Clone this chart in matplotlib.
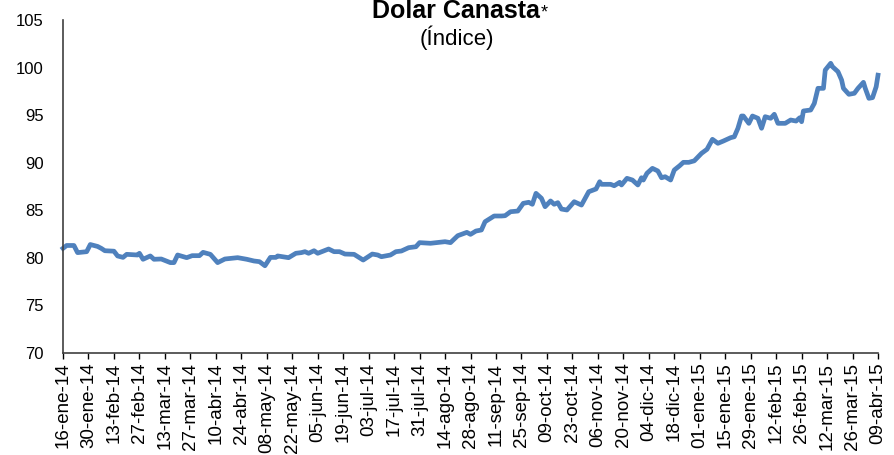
import matplotlib
matplotlib.use('Agg')
import matplotlib.pyplot as plt
import pandas as pd

# datos (Dolar Canasta, índice)
fechas = [
    '2014-01-16', '2014-01-18', '2014-01-22', '2014-01-24', '2014-01-29', '2014-01-31',
    '2014-02-04', '2014-02-06', '2014-02-08', '2014-02-13', '2014-02-15', '2014-02-18',
    '2014-02-20', '2014-02-26', '2014-02-27', '2014-03-01', '2014-03-05', '2014-03-07',
    '2014-03-11', '2014-03-16', '2014-03-18', '2014-03-20', '2014-03-25', '2014-03-28',
    '2014-04-01', '2014-04-03', '2014-04-07', '2014-04-11', '2014-04-15', '2014-04-22',
    '2014-04-27', '2014-05-01', '2014-05-04', '2014-05-07', '2014-05-10', '2014-05-13',
    '2014-05-14', '2014-05-20', '2014-05-24', '2014-05-27', '2014-05-29', '2014-05-31',
    '2014-06-03', '2014-06-05', '2014-06-11', '2014-06-14', '2014-06-17', '2014-06-20',
    '2014-06-25', '2014-06-30', '2014-07-05', '2014-07-08', '2014-07-10', '2014-07-15',
    '2014-07-18', '2014-07-21', '2014-07-25', '2014-07-29', '2014-07-31', '2014-08-06',
    '2014-08-11', '2014-08-14', '2014-08-17', '2014-08-21', '2014-08-26', '2014-08-28',
    '2014-08-31', '2014-09-03', '2014-09-05', '2014-09-10', '2014-09-14', '2014-09-16',
    '2014-09-19', '2014-09-23', '2014-09-26', '2014-09-29', '2014-10-01', '2014-10-03',
    '2014-10-06', '2014-10-08', '2014-10-11', '2014-10-13', '2014-10-15', '2014-10-17',
    '2014-10-20', '2014-10-24', '2014-10-28', '2014-11-01', '2014-11-05', '2014-11-07',
    '2014-11-08', '2014-11-13', '2014-11-15', '2014-11-18', '2014-11-19', '2014-11-22',
    '2014-11-25', '2014-11-28', '2014-11-30', '2014-12-01', '2014-12-03', '2014-12-06',
    '2014-12-09', '2014-12-11', '2014-12-13', '2014-12-16', '2014-12-18', '2014-12-21',
    '2014-12-23', '2014-12-26', '2014-12-29', '2015-01-02', '2015-01-05', '2015-01-08',
    '2015-01-11', '2015-01-14', '2015-01-18', '2015-01-20', '2015-01-22', '2015-01-24',
    '2015-01-25', '2015-01-28', '2015-01-30', '2015-02-02', '2015-02-04', '2015-02-06',
    '2015-02-09', '2015-02-11', '2015-02-13', '2015-02-17', '2015-02-20', '2015-02-23',
    '2015-02-25', '2015-02-26', '2015-02-27', '2015-03-03', '2015-03-05', '2015-03-07',
    '2015-03-10', '2015-03-11', '2015-03-14', '2015-03-15', '2015-03-18', '2015-03-20',
    '2015-03-21', '2015-03-24', '2015-03-27', '2015-03-29', '2015-04-01', '2015-04-02',
    '2015-04-04', '2015-04-06', '2015-04-08', '2015-04-09',
]
indice = [
    81.0, 81.3, 81.3, 80.55, 80.65, 81.4,
    81.2, 81.0, 80.75, 80.7, 80.2, 80.05,
    80.37, 80.3, 80.48, 79.85, 80.2, 79.85,
    79.88, 79.5, 79.5, 80.3, 80.02, 80.23,
    80.23, 80.58, 80.37, 79.5, 79.88, 80.02,
    79.85, 79.67, 79.6, 79.17, 80.05, 80.05,
    80.2, 80.02, 80.48, 80.55, 80.65, 80.48,
    80.75, 80.48, 80.93, 80.65, 80.65, 80.4,
    80.37, 79.77, 80.4, 80.3, 80.12, 80.3,
    80.65, 80.72, 81.07, 81.17, 81.6, 81.53,
    81.63, 81.7, 81.6, 82.33, 82.68, 82.47,
    82.82, 82.93, 83.8, 84.4, 84.4, 84.43,
    84.85, 84.92, 85.73, 85.84, 85.63, 86.78,
    86.26, 85.38, 85.98, 85.63, 85.8, 85.13,
    85.03, 85.9, 85.55, 86.95, 87.24, 88.0,
    87.73, 87.73, 87.58, 87.94, 87.66, 88.36,
    88.18, 87.66, 88.42, 88.18, 88.89, 89.41,
    89.13, 88.42, 88.53, 88.18, 89.23, 89.69,
    90.04, 90.04, 90.2, 90.99, 91.41, 92.46,
    92.04, 92.28, 92.63, 92.73, 93.62, 94.91,
    94.91, 94.14, 94.91, 94.67, 93.62, 94.84,
    94.67, 95.09, 94.14, 94.14, 94.49, 94.38,
    94.73, 94.31, 95.44, 95.54, 96.24, 97.82,
    97.82, 99.74, 100.45, 100.09, 99.57, 98.69,
    97.82, 97.19, 97.3, 97.82, 98.45, 97.82,
    96.77, 96.84, 97.99, 99.2,
]

etiquetas_x = [
    '16-ene-14', '30-ene-14', '13-feb-14', '27-feb-14', '13-mar-14', '27-mar-14',
    '10-abr-14', '24-abr-14', '08-may-14', '22-may-14', '05-jun-14', '19-jun-14',
    '03-jul-14', '17-jul-14', '31-jul-14', '14-ago-14', '28-ago-14', '11-sep-14',
    '25-sep-14', '09-oct-14', '23-oct-14', '06-nov-14', '20-nov-14', '04-dic-14',
    '18-dic-14', '01-ene-15', '15-ene-15', '29-ene-15', '12-feb-15', '26-feb-15',
    '12-mar-15', '26-mar-15', '09-abr-15',
]

plt.rcParams['font.family'] = ['Liberation Sans', 'DejaVu Sans']

fechas = pd.to_datetime(fechas)
ticks = pd.date_range('2014-01-16', '2015-04-09', freq='14D')

fig = plt.figure(figsize=(8.95, 4.55), dpi=100)
ax = fig.add_axes([0.0704, 0.2242, 0.9106, 0.7318])

ax.plot(fechas, indice, color='#4F81BD', linewidth=3.4, solid_joinstyle='round', clip_on=False)

ax.set_ylim(70, 105)
ax.set_yticks(range(70, 106, 5))
ax.set_xlim(ticks[0], ticks[-1])
ax.set_xticks(ticks)
ax.set_xticklabels(etiquetas_x, rotation=90, fontsize=13.5)
ax.tick_params(axis='y', length=0, labelsize=12, pad=14)
ax.tick_params(axis='x', length=4, width=1, pad=3)

for s in ['top', 'right']:
    ax.spines[s].set_visible(False)
for s in ['left', 'bottom']:
    ax.spines[s].set_color('#404040')
    ax.spines[s].set_linewidth(1.2)

# título
fig.text(0.603, 0.96, 'Dolar Canasta', ha='right', va='baseline', fontsize=18, fontweight='bold')
fig.text(0.604, 0.99, '*', ha='left', va='top', fontsize=13)
fig.text(0.51, 0.9, '(Índice)', ha='center', va='baseline', fontsize=16)

plt.savefig('out.png', dpi=100)
